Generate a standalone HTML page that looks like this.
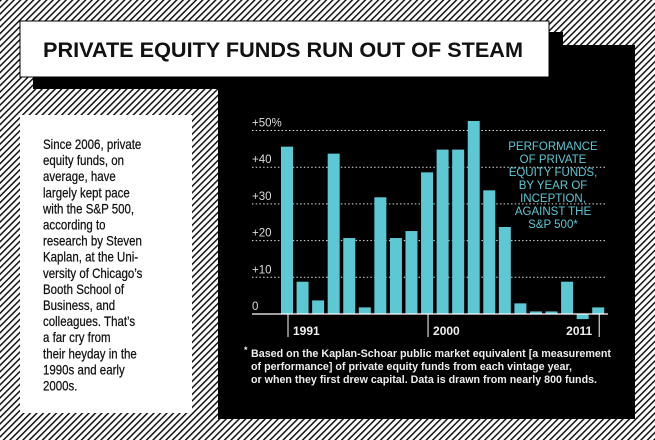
<!DOCTYPE html>
<html><head><meta charset="utf-8"><style>
html,body{margin:0;padding:0;width:655px;height:440px;overflow:hidden;background:#fff}
svg{display:block}
text{font-family:"Liberation Sans",sans-serif}
</style></head><body>
<svg width="655" height="440" viewBox="0 0 655 440" xmlns="http://www.w3.org/2000/svg">
<defs>
<pattern id="hatch" width="4.6" height="4.6" patternUnits="userSpaceOnUse" patternTransform="rotate(45)">
<rect width="4.6" height="4.6" fill="#fff"/><rect width="1.5" height="4.6" fill="#111"/>
</pattern>
</defs>
<rect x="0" y="0" width="655" height="440" fill="url(#hatch)"/>
<rect x="218" y="45" width="417" height="374" fill="#000"/>
<rect x="33" y="32" width="530" height="57" fill="#000"/>
<rect x="20" y="21" width="529" height="56" fill="#fff" stroke="#000" stroke-width="1"/>
<text x="43" y="57" font-size="21" font-weight="bold" textLength="480" lengthAdjust="spacingAndGlyphs" fill="#111">PRIVATE EQUITY FUNDS RUN OUT OF STEAM</text>
<rect x="20" y="115" width="172" height="298" fill="#fff"/>
<g id="side" font-size="14" fill="#111"></g>
<g id="grid"></g>
<g id="ylab" font-size="11.5" fill="#ddd"></g>
<g id="bars"></g>
<line x1="252" y1="314" x2="608" y2="314" stroke="#fff" stroke-width="1.2"/>
<g id="xlab" font-size="12" font-weight="bold" fill="#eee"></g>
<g font-size="11.5" fill="#5bc8d3" text-anchor="middle">
<text x="553" y="150">PERFORMANCE</text><text x="553" y="163">OF PRIVATE</text><text x="553" y="176">EQUITY FUNDS,</text><text x="553" y="189">BY YEAR OF</text><text x="553" y="202">INCEPTION,</text><text x="553" y="215">AGAINST THE</text><text x="553" y="228">S&amp;P 500*</text>
</g>
<g font-size="11" font-weight="bold" fill="#eee">
<text x="244" y="353" font-size="9">*</text>
<text x="251" y="357" textLength="360" lengthAdjust="spacingAndGlyphs">Based on the Kaplan-Schoar public market equivalent [a measurement</text>
<text x="251" y="370" textLength="321" lengthAdjust="spacingAndGlyphs">of performance] of private equity funds from each vintage year,</text>
<text x="251" y="383" textLength="346" lengthAdjust="spacingAndGlyphs">or when they first drew capital. Data is drawn from nearly 800 funds.</text>
</g>
</svg>
<script>
const years=[1991,1992,1993,1994,1995,1996,1997,1998,1999,2000,2001,2002,2003,2004,2005,2006,2007,2008,2009,2010,2011];
const values=[45.6,8.8,3.7,43.7,20.7,1.8,31.8,20.7,22.6,38.6,44.8,44.8,52.6,33.7,23.7,2.9,0.7,0.7,8.8,-1.4,1.8];
const yTicks=[0,10,20,30,40,50];
const yTickLabels=["0","+10","+20","+30","+40","+50%"];
const xLabelYears=[1991,2000,2011];
const sideLines=["Since 2006, private","equity funds, on","average, have","largely kept pace","with the S&P 500,","according to","research by Steven","Kaplan, at the Uni-","versity of Chicago’s","Booth School of","Business, and","colleagues. That’s","a far cry from","their heyday in the","1990s and early","2000s."];
const NS="http://www.w3.org/2000/svg";
function y(v){return 314-v*3.67;}
function x(yr){return 287+(yr-1991)*15.56;}
function mk(tag,attrs,parent,txt){const e=document.createElementNS(NS,tag);for(const k in attrs)e.setAttribute(k,attrs[k]);if(txt!==undefined)e.textContent=txt;parent.appendChild(e);return e;}
const grid=document.getElementById('grid'),ylab=document.getElementById('ylab');
yTicks.forEach((t,i)=>{
  if(t>0){const l=mk('line',{x1:252,x2:607,y1:y(t),y2:y(t),stroke:'#ddd','stroke-width':1,'stroke-dasharray':'1.5,2.2'},grid);
  
  }
  const tx=mk('text',{x:252,y:y(t)-4},ylab,yTickLabels[i]);
  
  
});
const bars=document.getElementById('bars');
years.forEach((yr,i)=>{
  const v=values[i];const top=v>=0?y(v):y(0);const h=Math.abs(y(v)-y(0));
  const r=mk('rect',{x:x(yr)-6,y:top,width:12,height:h,fill:'#5bc8d3'},bars);
  
  
});
const xlab=document.getElementById('xlab');
xLabelYears.forEach((yr,i)=>{
  const l=mk('line',{x1:x(yr)+1,x2:x(yr)+1,y1:314,y2:337,stroke:'#fff','stroke-width':1},xlab);
  
  
  const last=i===xLabelYears.length-1;
  const t=mk('text',{x:last?x(yr)-6:x(yr)+6,y:335,'text-anchor':last?'end':'start'},xlab,String(yr));
  
  
});
const side=document.getElementById('side');
sideLines.forEach((s,i)=>{
  const t=mk('text',{x:43,y:149+i*16.1,stroke:'#111','stroke-width':0.25},side,s);
  
  
  const w=t.getComputedTextLength();const target=w*0.82;
  t.setAttribute('textLength',target);t.setAttribute('lengthAdjust','spacingAndGlyphs');
});
</script>
</body></html>
